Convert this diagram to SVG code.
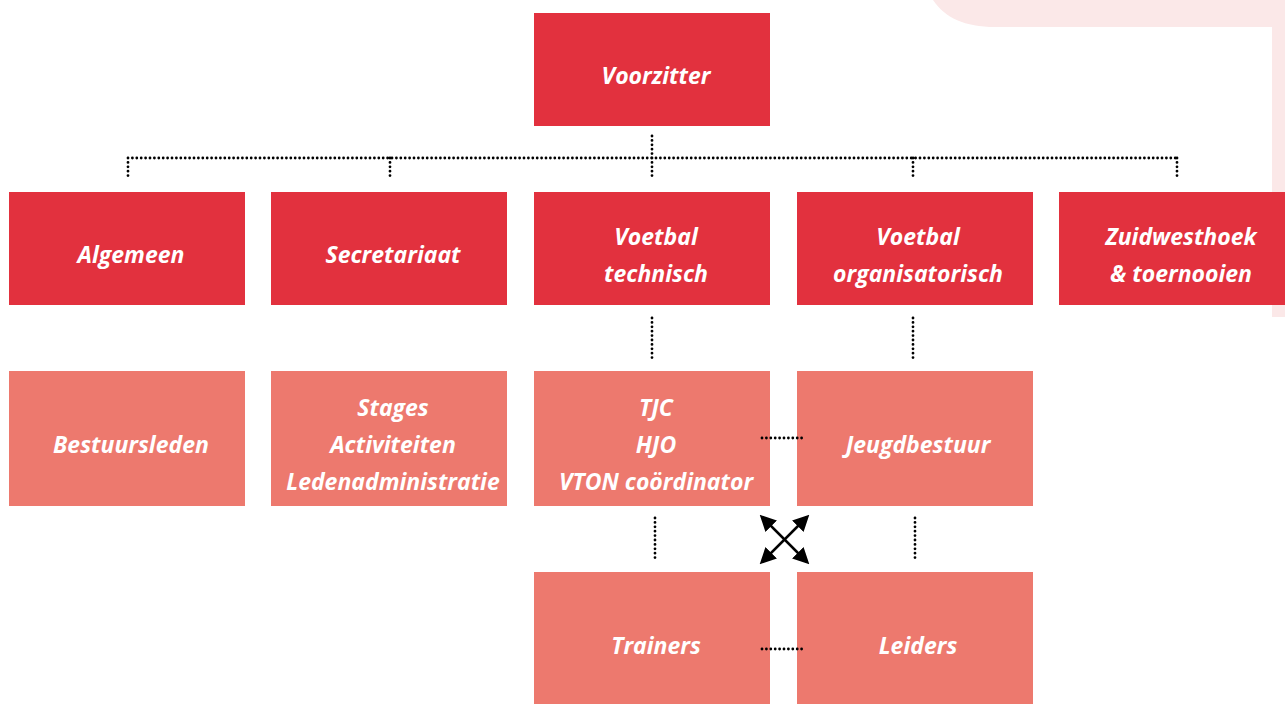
<svg xmlns="http://www.w3.org/2000/svg" width="1285" height="704" viewBox="0 0 1285 704">
<defs>
<style>
.d{fill:#e2313e}
.l{fill:#ed796e}
text{font-family:"Open Sans",Lato,sans-serif;font-weight:bold;font-style:italic;font-size:23px;fill:#fff;text-anchor:middle}
.dot{fill:none;stroke:#000;stroke-width:2.8;stroke-dasharray:0 4.4;stroke-linecap:round}
.arr{fill:none;stroke:#000;stroke-width:2.5}
</style>
<marker id="ah" viewBox="0 0 10 10" refX="8" refY="5" markerWidth="6.5" markerHeight="6.5" orient="auto-start-reverse"><path d="M0,0 L10,5 L0,10 z" fill="#000"/></marker>
</defs>
<path d="M933,0 C945,18 965,27 995,27 L1272,27 L1272,317 L1285,317 L1285,0 Z" fill="#fbe8e8"/>
<g id="n-voorzitter"><rect class="d" x="534" y="13" width="236" height="113"/><text x="656" y="84">Voorzitter</text></g>
<g id="n-algemeen"><rect class="d" x="9" y="192" width="236" height="113"/><text x="131" y="263">Algemeen</text></g>
<g id="n-secretariaat"><rect class="d" x="271" y="192" width="236" height="113"/><text x="393" y="263">Secretariaat</text></g>
<g id="n-vtech"><rect class="d" x="534" y="192" width="236" height="113"/><text x="656" y="245">Voetbal</text><text x="656" y="282">technisch</text></g>
<g id="n-vorg"><rect class="d" x="797" y="192" width="236" height="113"/><text x="918" y="245">Voetbal</text><text x="918" y="282">organisatorisch</text></g>
<g id="n-zwh"><rect class="d" x="1059" y="192" width="236" height="113"/><text x="1181" y="245">Zuidwesthoek</text><text x="1181" y="282">&amp; toernooien</text></g>
<g id="n-bestuur"><rect class="l" x="9" y="371" width="236" height="135"/><text x="131" y="453">Bestuursleden</text></g>
<g id="n-stages"><rect class="l" x="271" y="371" width="236" height="135"/><text x="393" y="416">Stages</text><text x="393" y="453">Activiteiten</text><text x="393" y="490">Ledenadministratie</text></g>
<g id="n-tjc"><rect class="l" x="534" y="371" width="236" height="135"/><text x="656" y="416">TJC</text><text x="656" y="453">HJO</text><text x="656" y="490">VTON coördinator</text></g>
<g id="n-jeugd"><rect class="l" x="797" y="371" width="236" height="135"/><text x="918" y="453">Jeugdbestuur</text></g>
<g id="n-trainers"><rect class="l" x="534" y="572" width="236" height="132"/><text x="656" y="654">Trainers</text></g>
<g id="n-leiders"><rect class="l" x="797" y="572" width="236" height="132"/><text x="918" y="654">Leiders</text></g>
<g id="connectors">
<path class="dot" d="M652,136 V158 M128,158 H1177 M128,158 V180 M390,158 V180 M652,158 V180 M913,158 V180 M1177,158 V180"/>
<path class="dot" d="M652,318 V362 M913,318 V362 M762,438 H806 M655,518 V562 M915,518 V562 M762,649 H806"/>
<line class="arr" x1="762" y1="517" x2="807" y2="562" marker-start="url(#ah)" marker-end="url(#ah)"/>
<line class="arr" x1="807" y1="517" x2="762" y2="562" marker-start="url(#ah)" marker-end="url(#ah)"/>
</g>
</svg>
